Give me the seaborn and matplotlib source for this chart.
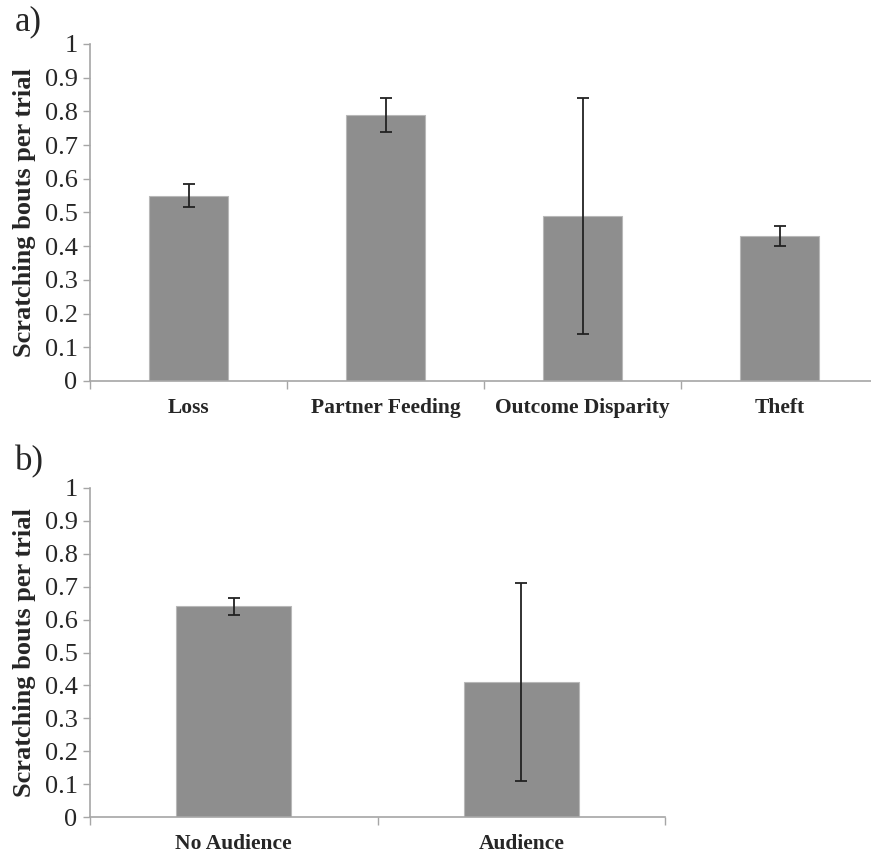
import matplotlib
matplotlib.use("Agg")
import matplotlib.pyplot as plt
import seaborn as sns
import pandas as pd

# === data ===
cond_a = ["Loss", "Partner Feeding", "Outcome Disparity", "Theft"]
mean_a = [0.55, 0.79, 0.49, 0.43]
err_a = [0.035, 0.05, 0.35, 0.03]

cond_b = ["No Audience", "Audience"]
mean_b = [0.64, 0.41]
err_b = [0.025, 0.30]

yticks = [0, 0.1, 0.2, 0.3, 0.4, 0.5, 0.6, 0.7, 0.8, 0.9, 1]
ytick_labels = ["0", "0.1", "0.2", "0.3", "0.4", "0.5", "0.6", "0.7", "0.8", "0.9", "1"]

sns.set_style("white")
plt.rcParams["font.family"] = ["Liberation Serif", "DejaVu Serif"]

bar_color = "#8e8e8e"
axis_color = "#a6a6a6"

fig = plt.figure(figsize=(8.71, 8.52), dpi=100)
ax_a = fig.add_axes([90 / 871, 1 - 381 / 852, 788 / 871, 337 / 852])
ax_b = fig.add_axes([90 / 871, 1 - 817 / 852, 575 / 871, 329 / 852])


def draw_panel(ax, cats, means, errs):
    df = pd.DataFrame({"cond": cats, "mean": means})
    sns.barplot(data=df, x="cond", y="mean", color=bar_color, width=0.4,
                edgecolor="#b8b8b8", linewidth=0.8, saturation=1, ax=ax)
    ax.errorbar(range(len(cats)), means, yerr=errs, fmt="none",
                ecolor="#222222", elinewidth=1.3, capsize=4, capthick=1.3)
    n = len(cats)
    ax.set_xlim(-0.5, n - 0.5)
    ax.set_ylim(0, 1)
    ax.set_yticks(yticks)
    ax.set_yticklabels(ytick_labels, fontsize=19)
    ax.set_xticks(range(n))
    ax.set_xticklabels(cats, fontsize=15.5, fontweight="bold")
    ax.set_xticks([i - 0.5 for i in range(n + 1)], minor=True)
    ax.tick_params(axis="x", which="major", length=0, pad=12)
    ax.tick_params(axis="x", which="minor", bottom=True, direction="out",
                   length=6, color=axis_color, width=1)
    ax.tick_params(axis="y", left=True, direction="out", length=5,
                   color=axis_color, width=1, pad=4)
    ax.set_xlabel("")
    ax.set_ylabel("Scratching bouts per trial", fontsize=19, fontweight="bold", labelpad=6)
    for side in ["top", "right"]:
        ax.spines[side].set_visible(False)
    for side in ["left", "bottom"]:
        ax.spines[side].set_color(axis_color)
        ax.spines[side].set_linewidth(1.2)


draw_panel(ax_a, cond_a, mean_a, err_a)
draw_panel(ax_b, cond_b, mean_b, err_b)

fig.text(15 / 871, 1 - 38 / 852, "a)", fontsize=25, ha="left", va="bottom")
fig.text(15 / 871, 1 - 478 / 852, "b)", fontsize=25, ha="left", va="bottom")

fig.savefig("out.png", dpi=100)
